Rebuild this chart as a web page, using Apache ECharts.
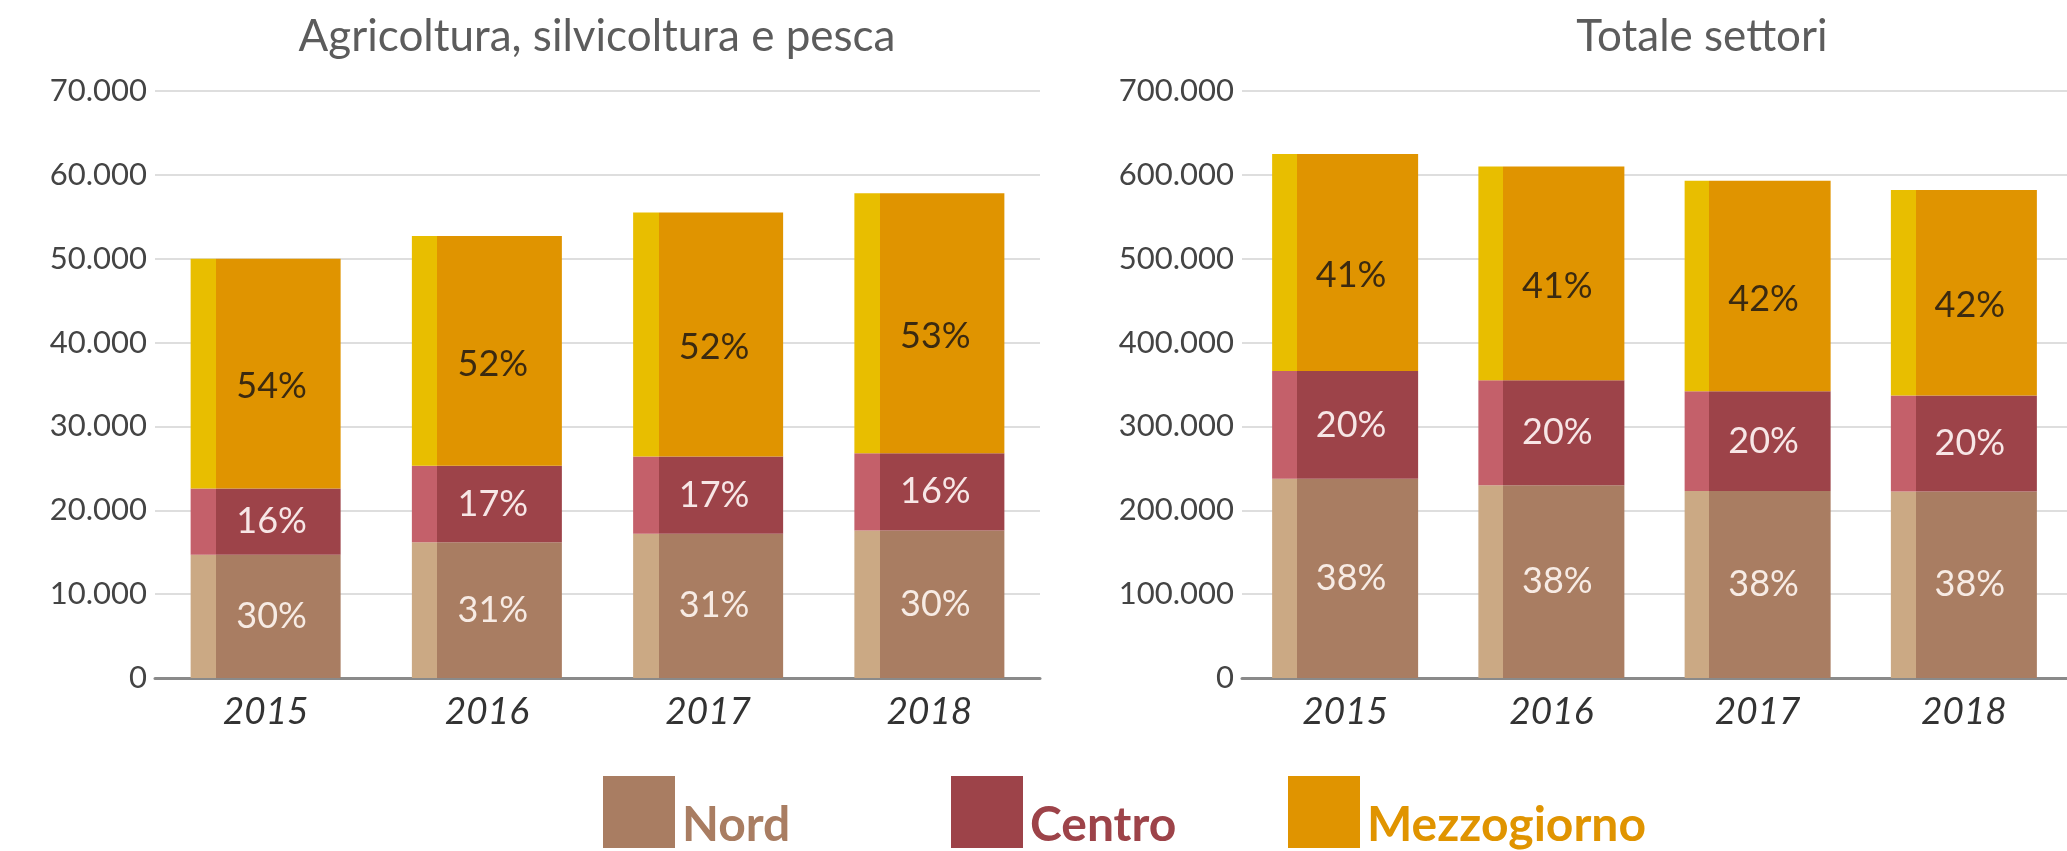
<!DOCTYPE html>
<html>
<head>
<meta charset="utf-8">
<title>Occupati per ripartizione</title>
<script src="https://cdn.jsdelivr.net/npm/echarts@6/dist/echarts.min.js"></script>
<style>
  html, body { margin: 0; padding: 0; background: #fff; }
  #chart { width: 2067px; height: 851px; }
</style>
</head>
<body>
<div id="chart"></div>
<script>
// categorie
var years = ['2015', '2016', '2017', '2018']

// Agricoltura, silvicoltura e pesca
var agriNord = [14700, 16200, 17200, 17600]
var agriCentro = [7900, 9100, 9200, 9200]
var agriMezz = [27400, 27400, 29100, 31000]
var agriNordPct = ['30%', '31%', '31%', '30%']
var agriCentroPct = ['16%', '17%', '17%', '16%']
var agriMezzPct = ['54%', '52%', '52%', '53%']

// Totale settori
var totNord = [237500, 230000, 223000, 222500]
var totCentro = [128500, 125000, 119000, 114500]
var totMezz = [259000, 255000, 251000, 245000]
var totNordPct = ['38%', '38%', '38%', '38%']
var totCentroPct = ['20%', '20%', '20%', '20%']
var totMezzPct = ['41%', '41%', '42%', '42%']

var FONT = 'Lato, "Open Sans", sans-serif'
var colors = {
  Nord: { main: '#a97d62', light: '#cba984', label: '#f7ebe4', dy: 0 },
  Centro: { main: '#9d4349', light: '#c4606a', label: '#f7e6e6', dy: 0 },
  Mezzogiorno: { main: '#e09400', light: '#e8be00', label: '#3b2a10', dy: 13 }
}

// barra con striscia chiara sul lato sinistro
function stripFill(c) {
  return {
    type: 'linear', x: 0, y: 0, x2: 1, y2: 0,
    colorStops: [
      { offset: 0, color: c.light },
      { offset: 0.17, color: c.light },
      { offset: 0.17, color: c.main },
      { offset: 1, color: c.main }
    ]
  }
}

function thousands(v) {
  return String(v).replace(/\B(?=(\d{3})+(?!\d))/g, '.')
}

function makeSeries(name, data, pct, idx, stack, barWidth) {
  var c = colors[name]
  return {
    name: name,
    type: 'bar',
    stack: stack,
    xAxisIndex: idx,
    yAxisIndex: idx,
    barWidth: barWidth,
    data: data,
    itemStyle: { color: stripFill(c) },
    label: {
      show: true,
      position: 'inside',
      offset: [6, c.dy],
      color: c.label,
      fontFamily: FONT,
      fontSize: 36,
      formatter: function (p) { return pct[p.dataIndex] }
    },
    emphasis: { disabled: true },
    animation: false
  }
}

function makeLegend(name, left) {
  var c = colors[name]
  return {
    left: left,
    top: 771,
    itemWidth: 72,
    itemHeight: 72,
    icon: 'rect',
    selectedMode: false,
    data: [{
      name: name,
      itemStyle: { color: c.main }
    }],
    formatter: '{t|{name}}',
    textStyle: {
      rich: {
        t: {
          color: c.main,
          fontFamily: FONT,
          fontWeight: 'bold',
          fontSize: 48,
          padding: [27, 0, 0, 2]
        }
      }
    }
  }
}

var chart = echarts.init(document.getElementById('chart'))

var xAxisCommon = {
  type: 'category',
  data: years,
  axisTick: { show: false },
  axisLine: { lineStyle: { color: '#8a8a8a', width: 3 } },
  axisLabel: {
    margin: 16,
    color: '#333',
    fontFamily: FONT,
    fontStyle: 'italic',
    fontSize: 37
  }
}

function yAxis(max, interval) {
  return {
    type: 'value',
    min: 0,
    max: max,
    interval: interval,
    axisLine: { show: false },
    axisTick: { show: false },
    splitLine: { lineStyle: { color: '#dedede', width: 2 } },
    axisLabel: {
      margin: 8,
      color: '#444',
      fontFamily: FONT,
      fontSize: 31,
      formatter: thousands
    }
  }
}

chart.setOption({
  backgroundColor: '#fff',
  title: [
    {
      text: 'Agricoltura, silvicoltura e pesca',
      left: 592,
      top: 10,
      textAlign: 'center',
      textStyle: { fontFamily: FONT, fontWeight: 'normal', fontSize: 44, color: '#5c5c5c' }
    },
    {
      text: 'Totale settori',
      left: 1697,
      top: 10,
      textAlign: 'center',
      textStyle: { fontFamily: FONT, fontWeight: 'normal', fontSize: 44, color: '#5c5c5c' }
    }
  ],
  legend: [
    makeLegend('Nord', 598),
    makeLegend('Centro', 946),
    makeLegend('Mezzogiorno', 1283)
  ],
  grid: [
    { left: 155, right: 1027, top: 91, bottom: 173 },
    { left: 1242, right: 0, top: 91, bottom: 173 }
  ],
  xAxis: [
    Object.assign({ gridIndex: 0 }, xAxisCommon),
    Object.assign({ gridIndex: 1 }, xAxisCommon)
  ],
  yAxis: [
    Object.assign({ gridIndex: 0 }, yAxis(70000, 10000)),
    Object.assign({ gridIndex: 1 }, yAxis(700000, 100000))
  ],
  series: [
    makeSeries('Nord', agriNord, agriNordPct, 0, 'agri', 150),
    makeSeries('Centro', agriCentro, agriCentroPct, 0, 'agri', 150),
    makeSeries('Mezzogiorno', agriMezz, agriMezzPct, 0, 'agri', 150),
    makeSeries('Nord', totNord, totNordPct, 1, 'tot', 146),
    makeSeries('Centro', totCentro, totCentroPct, 1, 'tot', 146),
    makeSeries('Mezzogiorno', totMezz, totMezzPct, 1, 'tot', 146)
  ]
})
</script>
</body>
</html>
